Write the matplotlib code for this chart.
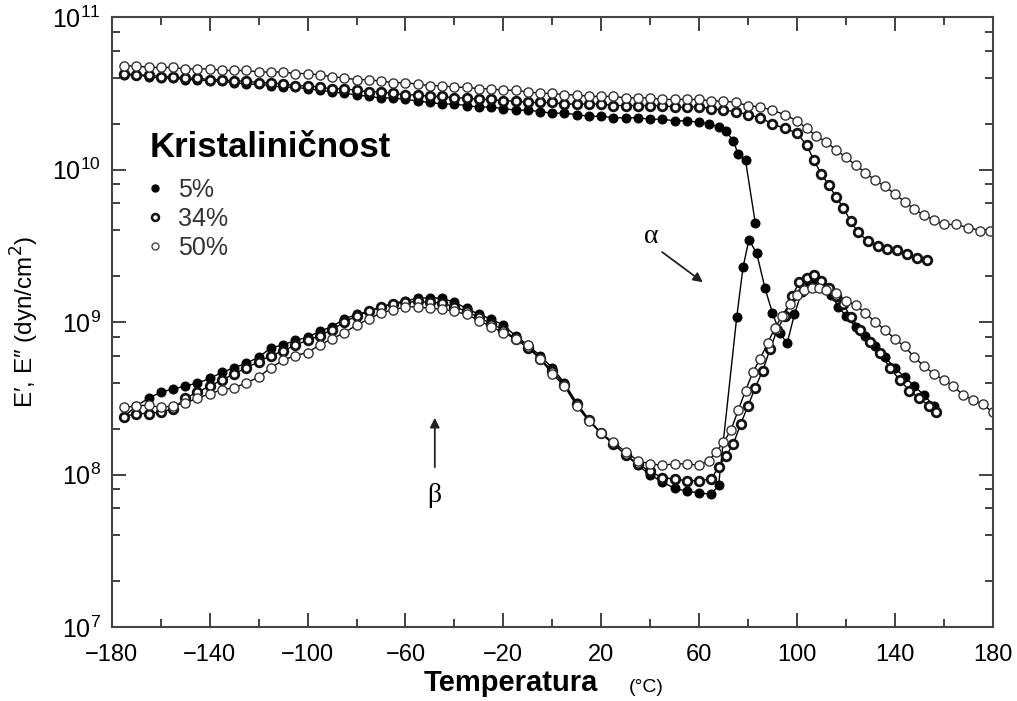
import numpy as np
import matplotlib
matplotlib.use("Agg")
import matplotlib.pyplot as plt
from matplotlib.lines import Line2D
from matplotlib.ticker import FixedLocator, LogLocator, NullFormatter

plt.rcParams['font.family'] = ['Liberation Sans', 'DejaVu Sans']

# --------------------------------------------------------------------
# values: temperature (°C) and log10 of modulus (dyn/cm2)

# E' (storage modulus)
t_e1_5 = [-175, -170, -165, -160, -155, -150, -145, -140, -135, -130, -125, -120,
          -115, -110, -105, -100, -95, -90, -85, -80, -75, -70, -65, -60, -55, -50,
          -45, -40, -35, -30, -25, -20, -15, -10, -5, 0, 5, 10, 15, 20, 25, 30, 35,
          40, 45, 50, 55, 60, 64, 68, 71, 74, 76, 79, 83]
e1_5 = [10.62, 10.62, 10.61, 10.60, 10.60, 10.59, 10.59, 10.58, 10.58, 10.57, 10.56,
        10.56, 10.55, 10.54, 10.54, 10.53, 10.52, 10.51, 10.50, 10.49, 10.48, 10.47,
        10.47, 10.46, 10.45, 10.44, 10.43, 10.43, 10.42, 10.41, 10.41, 10.40, 10.39,
        10.39, 10.38, 10.37, 10.37, 10.36, 10.35, 10.35, 10.34, 10.34, 10.34, 10.33,
        10.33, 10.32, 10.32, 10.31, 10.30, 10.28, 10.25, 10.19, 10.10, 10.06, 9.65]

t_e1_34 = [-175, -170, -165, -160, -155, -150, -145, -140, -135, -130, -125, -120,
           -115, -110, -105, -100, -95, -90, -85, -80, -75, -70, -65, -60, -55, -50,
           -45, -40, -35, -30, -25, -20, -15, -10, -5, 0, 5, 10, 15, 20, 25, 30, 35,
           40, 45, 50, 55, 60, 65, 70, 75, 80, 85, 90, 95, 100, 104, 107, 110, 113,
           116, 119, 122, 125, 129, 133, 137, 141, 145, 149, 153]
e1_34 = [10.63, 10.62, 10.62, 10.61, 10.61, 10.60, 10.60, 10.59, 10.59, 10.58, 10.58,
         10.57, 10.57, 10.56, 10.55, 10.55, 10.54, 10.53, 10.53, 10.52, 10.51, 10.51,
         10.50, 10.49, 10.49, 10.48, 10.48, 10.47, 10.47, 10.46, 10.46, 10.45, 10.45,
         10.44, 10.44, 10.44, 10.43, 10.43, 10.43, 10.43, 10.42, 10.42, 10.42, 10.42,
         10.42, 10.41, 10.41, 10.41, 10.40, 10.39, 10.38, 10.36, 10.34, 10.30, 10.27,
         10.24, 10.16, 10.06, 9.97, 9.90, 9.82, 9.75, 9.66, 9.59, 9.53, 9.50, 9.48,
         9.47, 9.445, 9.42, 9.41]

t_e1_50 = [-175, -170, -165, -160, -155, -150, -145, -140, -135, -130, -125, -120,
           -115, -110, -105, -100, -95, -90, -85, -80, -75, -70, -65, -60, -55, -50,
           -45, -40, -35, -30, -25, -20, -15, -10, -5, 0, 5, 10, 15, 20, 25, 30, 35,
           40, 45, 50, 55, 60, 65, 70, 75, 80, 85, 90, 95, 100, 104, 108, 112, 116,
           120, 124, 128, 132, 136, 140, 144, 148, 152, 156, 160, 165, 170, 175, 179]
e1_50 = [10.68, 10.68, 10.67, 10.67, 10.67, 10.66, 10.66, 10.66, 10.65, 10.65, 10.65,
         10.64, 10.64, 10.64, 10.63, 10.63, 10.62, 10.61, 10.60, 10.59, 10.59, 10.58,
         10.57, 10.57, 10.56, 10.55, 10.55, 10.54, 10.54, 10.53, 10.53, 10.52, 10.52,
         10.51, 10.50, 10.50, 10.49, 10.49, 10.48, 10.48, 10.48, 10.47, 10.47, 10.47,
         10.46, 10.46, 10.46, 10.46, 10.45, 10.45, 10.44, 10.42, 10.41, 10.39, 10.36,
         10.32, 10.27, 10.22, 10.18, 10.13, 10.08, 10.03, 9.98, 9.93, 9.89, 9.84, 9.79,
         9.74, 9.70, 9.67, 9.64, 9.64, 9.62, 9.60, 9.60]

# E'' (loss modulus)
t_e2_5 = [-175, -170, -165, -160, -155, -150, -145, -140, -135, -130, -125, -120,
          -115, -110, -105, -100, -95, -90, -85, -80, -75, -70, -65, -60, -55, -50,
          -45, -40, -35, -30, -25, -20, -15, -10, -5, 0, 5, 10, 15, 20, 25, 30, 35,
          40, 45, 50, 55, 60, 65, 68, 75.4, 78, 80.4, 83.6, 87, 90, 93, 96,
          99, 102, 105, 108, 111, 114, 117, 120, 124, 128, 132, 136, 140, 144, 148,
          152, 156]
e2_5 = [8.38, 8.45, 8.50, 8.54, 8.56, 8.58, 8.60, 8.63, 8.67, 8.70, 8.73, 8.77, 8.83,
        8.85, 8.88, 8.90, 8.94, 8.97, 9.02, 9.05, 9.07, 9.10, 9.12, 9.14, 9.155, 9.16,
        9.155, 9.13, 9.09, 9.05, 9.02, 8.98, 8.91, 8.85, 8.78, 8.70, 8.60, 8.47, 8.36,
        8.27, 8.20, 8.13, 8.06, 8.00, 7.95, 7.91, 7.89, 7.88, 7.87, 7.93,
        9.03, 9.36, 9.54, 9.45, 9.22, 9.06, 8.93, 8.86, 9.05, 9.20, 9.26,
        9.27, 9.23, 9.18, 9.10, 9.04, 8.97, 8.91, 8.84, 8.77, 8.70, 8.64, 8.58, 8.52,
        8.45]

t_e2_34 = [-175, -170, -165, -160, -155, -150, -145, -140, -135, -130, -125, -120,
           -115, -110, -105, -100, -95, -90, -85, -80, -75, -70, -65, -60, -55, -50,
           -45, -40, -35, -30, -25, -20, -15, -10, -5, 0, 5, 10, 15, 20, 25, 30, 35,
           40, 45, 50, 55, 60, 65, 68, 71, 74, 77, 80, 83, 86, 89, 92, 95, 98, 101,
           104, 107, 110, 113, 116, 119, 122, 126, 130, 134, 138, 142, 146, 150, 154,
           157]
e2_34 = [8.38, 8.40, 8.40, 8.41, 8.43, 8.50, 8.54, 8.58, 8.62, 8.66, 8.70, 8.74, 8.78,
         8.81, 8.85, 8.88, 8.91, 8.95, 9.00, 9.04, 9.07, 9.10, 9.12, 9.13, 9.135, 9.13,
         9.125, 9.10, 9.07, 9.03, 8.99, 8.95, 8.89, 8.83, 8.76, 8.68, 8.59, 8.46, 8.36,
         8.27, 8.20, 8.13, 8.07, 8.02, 7.98, 7.97, 7.96, 7.96, 7.97, 8.05, 8.12, 8.20,
         8.33, 8.45, 8.57, 8.68, 8.82, 8.95, 9.04, 9.17, 9.26, 9.29, 9.31, 9.27, 9.22,
         9.17, 9.12, 9.03, 8.95, 8.87, 8.80, 8.70, 8.62, 8.55, 8.50, 8.45, 8.41]

t_e2_50 = [-175, -170, -165, -160, -155, -150, -145, -140, -135, -130, -125, -120,
           -115, -110, -105, -100, -95, -90, -85, -80, -75, -70, -65, -60, -55, -50,
           -45, -40, -35, -30, -25, -20, -15, -10, -5, 0, 5, 10, 15, 20, 25, 30, 35,
           40, 45, 50, 55, 60, 64, 67, 70, 73, 76, 79, 82, 85, 88, 91, 94, 97, 100,
           103, 106, 109, 112, 116, 120, 124, 128, 132, 136, 140, 144, 148, 152, 156,
           160, 164, 168, 172, 176, 180]
e2_50 = [8.44, 8.45, 8.455, 8.44, 8.45, 8.47, 8.50, 8.53, 8.555, 8.57, 8.60, 8.64,
         8.70, 8.75, 8.78, 8.80, 8.85, 8.89, 8.93, 8.98, 9.02, 9.06, 9.08, 9.10, 9.10,
         9.09, 9.085, 9.07, 9.05, 9.01, 8.97, 8.93, 8.89, 8.85, 8.76, 8.66, 8.58, 8.45,
         8.35, 8.27, 8.21, 8.15, 8.09, 8.07, 8.06, 8.07, 8.07, 8.06, 8.09, 8.15, 8.21,
         8.29, 8.42, 8.55, 8.67, 8.76, 8.86, 8.96, 9.04, 9.12, 9.18, 9.21, 9.22, 9.22,
         9.21, 9.19, 9.14, 9.11, 9.06, 9.00, 8.95, 8.89, 8.84, 8.77, 8.71, 8.66, 8.62,
         8.58, 8.52, 8.49, 8.46, 8.41]

labels = ["5%", "34%", "50%"]

# --------------------------------------------------------------------
styles = {
    "5%": dict(marker="o", markersize=6.4, markerfacecolor="black",
               markeredgecolor="black", markeredgewidth=0.8),
    "34%": dict(marker="o", markersize=6.2, markerfacecolor="white",
                markeredgecolor="#111111", markeredgewidth=2.0),
    "50%": dict(marker="o", markersize=6.6, markerfacecolor="white",
                markeredgecolor="#333333", markeredgewidth=1.0),
}

fig = plt.figure(figsize=(10.17, 7.01), dpi=100)
ax = fig.add_axes([0.110, 0.1056, 0.866, 0.870])

series = [
    ("5%", t_e1_5, e1_5), ("34%", t_e1_34, e1_34), ("50%", t_e1_50, e1_50),
    ("5%", t_e2_5, e2_5), ("34%", t_e2_34, e2_34), ("50%", t_e2_50, e2_50),
]
for lab, t, logv in series:
    ax.plot(t, 10 ** np.array(logv), color="black", linewidth=1.0,
            zorder=2, **styles[lab])

ax.set_yscale("log")
ax.set_xlim(-180, 180)
ax.set_ylim(1e7, 1e11)

ax.xaxis.set_major_locator(FixedLocator(list(range(-180, 181, 40))))
ax.xaxis.set_minor_locator(FixedLocator(list(range(-160, 180, 40))))
ax.yaxis.set_major_locator(LogLocator(base=10, numticks=10))
ax.yaxis.set_minor_locator(LogLocator(base=10, subs=(2, 4, 6, 8), numticks=10))
ax.yaxis.set_minor_formatter(NullFormatter())

ax.tick_params(which="both", direction="in", top=True, right=True,
               colors="#333333", width=1.3)
ax.tick_params(which="major", length=10)
ax.tick_params(which="minor", length=6)
ax.tick_params(axis="x", which="major", labelsize=17, pad=12)
ax.tick_params(axis="y", which="major", labelsize=18, pad=8)
for lbl in ax.get_xticklabels():
    lbl.set_family(['Liberation Sans Narrow', 'Liberation Sans'])
    lbl.set_color("black")
for lbl in ax.get_yticklabels():
    lbl.set_color("black")
for sp in ax.spines.values():
    sp.set_linewidth(1.5)
    sp.set_color("#444444")

ax.set_ylabel("E\u2032, E\u2033 (dyn/cm$^2$)", fontsize=17.5, labelpad=8)
fig.text(0.502, 0.026, "Temperatura", fontsize=21, fontweight="bold",
         family=['Liberation Sans Narrow', 'Liberation Sans'], ha="center", va="center")
fig.text(0.618, 0.019, "(°C)", fontsize=14, ha="left", va="center",
         family=['Liberation Sans Narrow', 'Liberation Sans'])

# annotations
ax.annotate("", xy=(62.5, 10 ** 9.25), xytext=(44, 10 ** 9.47),
            arrowprops=dict(arrowstyle="-|>", color="#222222", lw=1.3,
                            mutation_scale=14))
ax.text(40.5, 10 ** 9.56, "\u03b1", fontsize=20, family="Liberation Serif",
        ha="center", va="center")
ax.annotate("", xy=(-48, 10 ** 8.39), xytext=(-48, 10 ** 8.03),
            arrowprops=dict(arrowstyle="-|>", color="#222222", lw=1.3,
                            mutation_scale=14))
ax.text(-48, 10 ** 7.86, "\u03b2", fontsize=20, family="Liberation Serif",
        ha="center", va="center")

# legend: title as text, entries as a frameless legend
ax.text(0.043, 0.787, "Kristaliničnost", transform=ax.transAxes, fontsize=25,
        fontweight="bold", ha="left", va="center")
handles = [Line2D([], [], linestyle="none", marker="o", markersize=5,
                  markerfacecolor="black", markeredgecolor="black"),
           Line2D([], [], linestyle="none", marker="o", markersize=5,
                  markerfacecolor="white", markeredgecolor="#111111",
                  markeredgewidth=1.8),
           Line2D([], [], linestyle="none", marker="o", markersize=5,
                  markerfacecolor="white", markeredgecolor="#444444",
                  markeredgewidth=1.0)]
leg = ax.legend(handles, labels, loc="upper left",
                bbox_to_anchor=(0.018, 0.765), frameon=False, fontsize=18,
                handlelength=0.8, handletextpad=0.5,
                labelspacing=0.2, borderpad=0.2)
for txt in leg.get_texts():
    txt.set_color("#333333")

fig.savefig("out.png", dpi=100)
